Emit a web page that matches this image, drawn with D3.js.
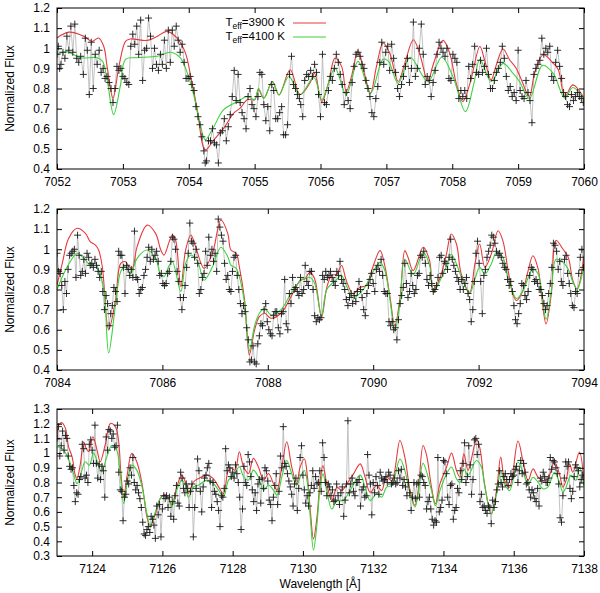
<!DOCTYPE html>
<html>
<head>
<meta charset="utf-8">
<script src="https://cdn.jsdelivr.net/npm/d3@7"></script>
<style>
  body { margin: 0; background: #fff; }
  svg { display: block; font-family: "Liberation Sans", Arial, sans-serif; }
  .tick text { font-size: 12px; fill: #000; }
  .domain { display: none; }
  .tick line { stroke: #000; }
</style>
</head>
<body>
<div id="chart"></div>
<script>
/**
 * DATA
 * */
const legendLabels = ["3900 K", "4100 K"];

// panel 1 : 7052 - 7060
const obs1 = [[7052.00,0.97],[7052.02,1.01],[7052.04,0.90],[7052.06,0.92],[7052.09,0.98],[7052.12,0.95],[7052.15,1.06],[7052.18,0.99],
  [7052.21,1.11],[7052.24,0.98],[7052.27,1.12],[7052.30,0.95],[7052.33,0.93],[7052.36,0.96],[7052.40,0.87],[7052.43,1.05],[7052.46,0.99],
  [7052.49,0.77],[7052.52,1.03],[7052.55,0.80],[7052.58,0.97],[7052.61,0.92],[7052.64,0.99],[7052.67,0.88],[7052.70,0.90],[7052.73,0.85],
  [7052.76,0.86],[7052.79,0.83],[7052.82,0.80],[7052.85,0.73],[7052.88,0.80],[7052.91,0.91],[7052.94,0.89],[7052.97,0.90],[7053.00,0.86],
  [7053.03,0.85],[7053.06,0.83],[7053.09,0.82],[7053.12,1.01],[7053.15,1.07],[7053.18,1.02],[7053.21,1.11],[7053.24,0.97],[7053.27,1.14],
  [7053.30,0.84],[7053.33,0.99],[7053.36,1.00],[7053.39,1.15],[7053.42,1.06],[7053.45,0.90],[7053.48,1.00],[7053.51,0.92],[7053.54,0.89],
  [7053.57,0.97],[7053.60,0.92],[7053.63,1.04],[7053.66,0.90],[7053.69,1.09],[7053.72,0.93],[7053.75,1.09],[7053.78,1.01],[7053.81,1.11],
  [7053.84,1.04],[7053.87,0.98],[7053.90,1.02],[7053.93,0.93],[7053.96,0.85],[7053.99,0.85],[7054.02,0.86],[7054.05,0.82],[7054.08,0.79],
  [7054.11,0.71],[7054.14,0.66],[7054.17,0.62],[7054.20,0.56],[7054.23,0.49],[7054.25,0.43],[7054.27,0.44],[7054.30,0.54],[7054.33,0.54],
  [7054.36,0.60],[7054.39,0.53],[7054.42,0.52],[7054.45,0.43],[7054.48,0.58],[7054.51,0.59],[7054.54,0.65],[7054.57,0.54],[7054.60,0.61],
  [7054.63,0.67],[7054.66,0.76],[7054.69,0.89],[7054.72,0.74],[7054.75,0.87],[7054.78,0.73],[7054.81,0.68],[7054.84,0.65],[7054.87,0.60],
  [7054.90,0.76],[7054.93,0.80],[7054.96,0.72],[7054.99,0.70],[7055.02,0.66],[7055.05,0.76],[7055.08,0.88],[7055.11,0.87],[7055.14,0.72],
  [7055.17,0.64],[7055.20,0.71],[7055.23,0.59],[7055.26,0.82],[7055.29,0.79],[7055.32,0.65],[7055.35,0.65],[7055.38,0.68],[7055.41,0.71],
  [7055.44,0.57],[7055.47,0.57],[7055.50,0.62],[7055.53,0.87],[7055.56,0.96],[7055.59,0.82],[7055.62,0.80],[7055.65,0.77],[7055.68,0.75],
  [7055.70,0.72],[7055.73,0.66],[7055.76,0.84],[7055.79,0.87],[7055.82,0.86],[7055.85,0.89],[7055.88,0.86],[7055.91,0.92],[7055.94,0.88],
  [7055.97,0.77],[7056.00,0.66],[7056.03,0.97],[7056.06,0.73],[7056.09,0.72],[7056.12,0.79],[7056.15,0.86],[7056.18,0.84],[7056.21,0.90],
  [7056.24,0.97],[7056.27,0.93],[7056.30,0.87],[7056.33,0.82],[7056.36,0.72],[7056.39,0.78],[7056.42,0.74],[7056.45,0.70],[7056.48,0.83],
  [7056.51,0.91],[7056.54,0.97],[7056.57,0.98],[7056.60,0.96],[7056.63,0.92],[7056.66,0.90],[7056.69,0.84],[7056.72,0.80],[7056.75,0.76],
  [7056.78,0.68],[7056.81,0.66],[7056.84,0.75],[7056.87,0.81],[7056.90,0.93],[7056.93,1.03],[7056.96,0.92],[7056.99,0.98],[7057.02,1.01],
  [7057.05,0.89],[7057.08,1.02],[7057.11,0.95],[7057.14,0.88],[7057.17,0.80],[7057.20,0.76],[7057.23,0.82],[7057.26,0.86],[7057.29,0.91],
  [7057.32,0.95],[7057.35,0.83],[7057.38,0.90],[7057.41,1.13],[7057.44,0.86],[7057.47,0.90],[7057.50,1.00],[7057.53,1.12],[7057.56,0.97],
  [7057.59,0.82],[7057.62,0.86],[7057.65,0.84],[7057.68,0.76],[7057.71,0.83],[7057.74,0.89],[7057.77,0.97],[7057.80,1.03],[7057.83,1.00],
  [7057.86,0.98],[7057.89,0.96],[7057.92,1.00],[7057.95,0.85],[7057.98,0.84],[7058.01,0.97],[7058.04,0.95],[7058.07,0.93],[7058.10,0.75],
  [7058.13,0.79],[7058.16,0.76],[7058.19,0.79],[7058.22,0.75],[7058.25,0.91],[7058.28,0.85],[7058.31,0.92],[7058.34,1.01],[7058.37,0.88],
  [7058.40,0.87],[7058.43,0.94],[7058.46,0.88],[7058.49,0.91],[7058.52,1.00],[7058.55,0.87],[7058.58,0.80],[7058.61,0.80],[7058.64,0.84],
  [7058.67,0.88],[7058.70,0.90],[7058.73,0.93],[7058.76,1.01],[7058.79,0.95],[7058.82,0.86],[7058.85,0.79],[7058.88,0.81],[7058.91,0.76],
  [7058.94,0.78],[7058.97,0.74],[7059.00,0.99],[7059.03,0.79],[7059.06,0.76],[7059.09,0.75],[7059.12,0.84],[7059.15,0.78],[7059.18,0.74],
  [7059.21,0.63],[7059.24,0.87],[7059.27,0.90],[7059.30,0.92],[7059.33,0.94],[7059.36,1.05],[7059.39,0.97],[7059.42,1.00],[7059.45,0.98],
  [7059.48,1.01],[7059.51,0.86],[7059.54,0.84],[7059.57,0.93],[7059.60,0.99],[7059.63,0.91],[7059.66,0.85],[7059.69,0.78],[7059.72,0.76],
  [7059.75,0.72],[7059.78,0.71],[7059.81,0.77],[7059.84,0.74],[7059.87,0.76],[7059.90,0.78],[7059.93,0.76],[7059.96,0.75],[7059.99,0.73]];

const red1 = [[7052.00,1.051],[7052.18,1.080],[7052.41,1.059],[7052.53,1.034],[7052.63,1.051],[7052.71,1.009],[7052.76,0.910],
  [7052.85,0.752],[7052.94,0.910],[7053.04,1.034],[7053.11,1.046],[7053.37,1.039],[7053.52,1.059],[7053.67,1.084],[7053.82,1.051],
  [7053.95,0.976],[7054.03,0.860],[7054.13,0.694],[7054.25,0.495],[7054.38,0.544],[7054.53,0.602],[7054.68,0.677],[7054.78,0.702],
  [7054.89,0.744],[7055.00,0.744],[7055.06,0.793],[7055.14,0.752],[7055.27,0.835],[7055.37,0.768],[7055.54,0.893],[7055.69,0.770],
  [7055.84,0.827],[7055.91,0.876],[7056.02,0.735],[7056.12,0.827],[7056.22,0.951],[7056.32,0.910],[7056.39,0.785],[7056.47,0.860],
  [7056.57,0.989],[7056.67,0.868],[7056.76,0.777],[7056.85,0.910],[7056.95,1.026],[7057.05,0.976],[7057.18,0.835],[7057.28,0.926],
  [7057.41,1.042],[7057.51,0.968],[7057.63,0.835],[7057.71,0.918],[7057.86,1.039],[7057.96,0.976],[7058.06,0.827],[7058.16,0.735],
  [7058.27,0.827],[7058.42,1.009],[7058.49,0.943],[7058.59,0.843],[7058.67,0.918],[7058.77,0.996],[7058.87,0.943],[7058.97,0.901],
  [7059.05,0.843],[7059.17,0.760],[7059.25,0.876],[7059.38,0.968],[7059.53,0.926],[7059.61,0.893],[7059.71,0.760],[7059.83,0.818],
  [7060.00,0.752]];

const green1 = [[7052.00,0.970],[7052.15,0.983],[7052.35,0.953],[7052.61,0.953],[7052.69,0.936],[7052.76,0.845],[7052.86,0.670],
  [7052.96,0.810],[7053.04,0.945],[7053.20,0.953],[7053.52,0.960],[7053.72,0.980],[7053.87,0.953],[7053.97,0.885],[7054.07,0.775],
  [7054.17,0.630],[7054.25,0.545],[7054.38,0.610],[7054.53,0.695],[7054.74,0.735],[7054.89,0.760],[7055.00,0.745],[7055.06,0.800],
  [7055.14,0.752],[7055.27,0.835],[7055.37,0.768],[7055.52,0.860],[7055.69,0.770],[7055.90,0.855],[7056.02,0.745],[7056.22,0.900],
  [7056.39,0.770],[7056.57,0.935],[7056.76,0.777],[7056.95,0.945],[7057.03,0.936],[7057.18,0.825],[7057.36,0.955],[7057.63,0.835],
  [7057.84,0.955],[7058.01,0.860],[7058.20,0.685],[7058.33,0.827],[7058.42,0.945],[7058.59,0.835],[7058.77,0.925],[7058.92,0.876],
  [7059.02,0.835],[7059.17,0.750],[7059.37,0.915],[7059.53,0.876],[7059.71,0.752],[7059.83,0.805],[7060.00,0.745]];

// panel 2 : 7084 - 7094
const obs2 = [[7084.00,0.98],[7084.03,0.89],[7084.06,0.88],[7084.09,0.82],[7084.12,0.70],[7084.15,0.84],[7084.18,0.78],[7084.21,0.90],
  [7084.24,0.97],[7084.27,0.98],[7084.30,0.99],[7084.33,1.00],[7084.36,0.86],[7084.39,1.07],[7084.42,0.97],[7084.45,0.87],[7084.48,0.89],
  [7084.51,0.95],[7084.54,0.88],[7084.57,0.98],[7084.60,0.96],[7084.63,0.92],[7084.66,0.93],[7084.69,0.91],[7084.72,0.95],[7084.75,0.92],
  [7084.78,0.89],[7084.81,0.86],[7084.84,0.89],[7084.87,0.79],[7084.90,0.70],[7084.93,0.77],[7084.96,0.73],[7084.99,0.62],[7085.02,0.68],
  [7085.05,0.72],[7085.08,0.81],[7085.11,0.79],[7085.14,0.74],[7085.17,0.99],[7085.20,0.97],[7085.23,0.97],[7085.26,0.91],[7085.29,0.78],
  [7085.32,0.92],[7085.35,0.90],[7085.38,0.87],[7085.41,0.90],[7085.44,0.86],[7085.47,1.09],[7085.50,0.86],[7085.53,0.85],[7085.56,0.78],
  [7085.59,0.80],[7085.62,0.81],[7085.65,0.87],[7085.68,0.90],[7085.71,0.96],[7085.74,1.01],[7085.77,0.94],[7085.80,1.00],[7085.83,0.95],
  [7085.86,0.97],[7085.89,0.99],[7085.92,0.94],[7085.95,0.87],[7085.98,0.88],[7086.01,0.83],[7086.04,0.82],[7086.07,0.83],[7086.10,0.88],
  [7086.13,0.89],[7086.16,0.94],[7086.19,1.06],[7086.22,1.05],[7086.25,1.00],[7086.28,0.89],[7086.31,0.84],[7086.34,0.76],[7086.37,0.70],
  [7086.40,0.76],[7086.43,0.82],[7086.46,0.91],[7086.49,0.98],[7086.52,1.13],[7086.55,1.04],[7086.58,1.03],[7086.61,0.96],[7086.64,1.00],
  [7086.67,0.93],[7086.70,0.78],[7086.73,0.80],[7086.76,0.86],[7086.79,0.88],[7086.82,0.99],[7086.85,0.92],[7086.88,1.06],[7086.91,0.97],
  [7086.94,1.00],[7086.97,0.94],[7087.00,0.98],[7087.03,0.89],[7087.06,1.15],[7087.09,1.11],[7087.12,1.07],[7087.15,1.04],[7087.18,0.93],
  [7087.21,0.85],[7087.24,0.87],[7087.27,0.80],[7087.30,0.79],[7087.33,0.89],[7087.36,0.96],[7087.39,0.97],[7087.42,0.87],[7087.45,0.80],
  [7087.48,0.73],[7087.51,0.68],[7087.54,0.72],[7087.57,0.69],[7087.60,0.61],[7087.63,0.55],[7087.66,0.44],[7087.69,0.45],[7087.72,0.52],
  [7087.75,0.44],[7087.78,0.43],[7087.81,0.53],[7087.84,0.57],[7087.87,0.63],[7087.90,0.62],[7087.93,0.70],[7087.96,0.73],[7087.99,0.64],
  [7088.02,0.60],[7088.05,0.58],[7088.08,0.57],[7088.11,0.67],[7088.14,0.69],[7088.17,0.69],[7088.20,0.61],[7088.23,0.58],[7088.26,0.68],
  [7088.29,0.69],[7088.32,0.85],[7088.35,0.63],[7088.38,0.60],[7088.41,0.78],[7088.44,0.73],[7088.47,0.86],[7088.50,0.80],[7088.53,0.81],
  [7088.56,0.79],[7088.59,0.77],[7088.62,0.86],[7088.65,0.78],[7088.68,0.80],[7088.71,0.92],[7088.74,0.84],[7088.77,0.82],[7088.80,0.89],
  [7088.83,0.89],[7088.86,0.80],[7088.89,0.67],[7088.92,0.64],[7088.95,0.66],[7088.98,0.65],[7089.01,0.66],[7089.04,0.87],[7089.07,0.85],
  [7089.10,0.89],[7089.13,0.86],[7089.16,0.87],[7089.19,0.89],[7089.22,0.86],[7089.25,0.84],[7089.28,0.82],[7089.31,0.89],[7089.34,0.87],
  [7089.37,0.94],[7089.40,0.85],[7089.43,0.83],[7089.46,0.80],[7089.49,0.75],[7089.52,0.72],[7089.55,0.76],[7089.58,0.78],[7089.61,0.73],
  [7089.64,0.77],[7089.67,0.74],[7089.70,0.79],[7089.73,0.84],[7089.76,0.80],[7089.79,0.76],[7089.82,0.70],[7089.85,0.67],[7089.88,0.78],
  [7089.91,0.82],[7089.94,0.85],[7089.97,0.88],[7090.00,0.83],[7090.03,0.79],[7090.06,0.90],[7090.09,0.92],[7090.12,0.89],[7090.15,0.95],
  [7090.18,0.87],[7090.21,0.79],[7090.24,0.78],[7090.27,0.78],[7090.30,0.64],[7090.33,0.62],[7090.36,0.64],[7090.39,0.60],[7090.42,0.61],
  [7090.45,0.55],[7090.48,0.65],[7090.51,0.73],[7090.54,0.77],[7090.57,0.81],[7090.60,0.93],[7090.63,0.83],[7090.66,0.76],[7090.69,0.79],
  [7090.72,0.88],[7090.75,0.82],[7090.78,0.78],[7090.81,0.80],[7090.84,0.87],[7090.87,0.88],[7090.90,0.97],[7090.93,0.96],[7090.96,0.99],
  [7090.99,0.93],[7091.02,0.85],[7091.05,0.82],[7091.08,0.87],[7091.11,0.83],[7091.14,0.79],[7091.17,0.80],[7091.20,0.82],[7091.23,0.86],
  [7091.26,0.96],[7091.29,0.97],[7091.32,0.88],[7091.35,0.94],[7091.38,0.93],[7091.41,0.90],[7091.44,0.96],[7091.47,1.05],[7091.50,0.95],
  [7091.53,0.92],[7091.56,0.89],[7091.59,0.86],[7091.62,0.84],[7091.65,0.80],[7091.68,0.85],[7091.71,0.80],[7091.74,0.83],[7091.77,0.86],
  [7091.80,0.78],[7091.83,0.75],[7091.86,0.64],[7091.89,0.70],[7091.92,0.84],[7091.95,0.98],[7091.98,1.04],[7092.01,0.93],[7092.04,0.84],
  [7092.07,0.68],[7092.10,0.87],[7092.13,0.90],[7092.16,0.96],[7092.19,0.99],[7092.22,1.02],[7092.25,1.07],[7092.28,1.06],[7092.31,1.03],
  [7092.34,0.99],[7092.37,0.97],[7092.40,0.98],[7092.43,0.96],[7092.46,0.93],[7092.49,0.91],[7092.52,0.90],[7092.55,0.85],[7092.58,0.82],
  [7092.61,0.84],[7092.64,0.79],[7092.67,0.72],[7092.70,0.65],[7092.73,0.63],[7092.76,0.68],[7092.79,0.73],[7092.82,0.83],[7092.85,0.82],
  [7092.88,0.77],[7092.91,0.75],[7092.94,0.79],[7092.97,0.87],[7093.00,0.91],[7093.03,0.90],[7093.06,0.84],[7093.09,0.85],[7093.12,0.83],
  [7093.15,0.80],[7093.18,0.80],[7093.21,0.77],[7093.24,0.73],[7093.27,0.70],[7093.30,0.72],[7093.33,0.78],[7093.36,0.83],[7093.39,0.91],
  [7093.42,1.03],[7093.45,1.02],[7093.48,0.99],[7093.51,0.90],[7093.54,0.94],[7093.57,0.84],[7093.60,0.82],[7093.63,0.95],[7093.66,0.97],
  [7093.69,0.88],[7093.72,0.83],[7093.75,0.78],[7093.78,0.72],[7093.81,0.71],[7093.84,0.79],[7093.87,0.78],[7093.90,0.88],[7093.93,0.96],
  [7093.96,1.00],[7093.99,0.91]];

const red2 = [[7084.00,0.822],[7084.10,0.930],[7084.22,1.054],[7084.38,1.104],[7084.54,1.079],[7084.63,1.038],[7084.73,1.021],
  [7084.79,0.996],[7084.86,0.913],[7084.98,0.599],[7085.11,0.748],[7085.21,0.930],[7085.30,0.938],[7085.37,0.913],[7085.43,0.905],
  [7085.52,1.013],[7085.71,1.120],[7085.87,1.079],[7085.97,0.996],[7086.03,0.971],[7086.13,1.038],[7086.19,1.071],[7086.25,1.046],
  [7086.35,0.814],[7086.44,0.996],[7086.54,1.071],[7086.63,1.013],[7086.79,0.905],[7086.95,0.980],[7087.11,1.145],[7087.24,1.079],
  [7087.30,0.996],[7087.40,0.980],[7087.46,0.913],[7087.56,0.748],[7087.65,0.475],[7087.75,0.599],[7087.84,0.665],[7087.94,0.682],
  [7088.06,0.657],[7088.25,0.682],[7088.44,0.764],[7088.63,0.850],[7088.70,0.852],[7088.80,0.885],[7088.89,0.852],[7089.02,0.662],
  [7089.12,0.811],[7089.21,0.869],[7089.31,0.877],[7089.40,0.919],[7089.49,0.844],[7089.62,0.778],[7089.75,0.811],[7089.87,0.819],
  [7089.97,0.894],[7090.13,0.993],[7090.22,0.919],[7090.32,0.761],[7090.41,0.621],[7090.51,0.761],[7090.60,0.993],[7090.66,0.960],
  [7090.76,0.894],[7090.95,1.010],[7091.07,0.943],[7091.14,0.794],[7091.26,0.852],[7091.39,0.976],[7091.48,1.076],[7091.58,1.026],
  [7091.67,0.877],[7091.83,0.786],[7091.93,0.927],[7092.02,1.026],[7092.12,0.910],[7092.24,0.976],[7092.37,1.092],[7092.46,1.043],
  [7092.56,0.894],[7092.65,0.778],[7092.72,0.745],[7092.84,0.794],[7092.94,0.894],[7093.03,0.968],[7093.13,0.902],[7093.19,0.778],
  [7093.28,0.629],[7093.38,0.778],[7093.47,1.043],[7093.60,1.001],[7093.70,0.960],[7093.79,0.844],[7093.87,0.803],[7094.00,0.968]];

const green2 = [[7084.00,0.800],[7084.13,0.880],[7084.25,0.938],[7084.38,0.980],[7084.54,0.946],[7084.63,0.921],[7084.73,0.930],
  [7084.79,0.896],[7084.89,0.800],[7084.98,0.485],[7085.11,0.724],[7085.21,0.889],[7085.30,0.917],[7085.40,0.880],[7085.52,0.955],
  [7085.71,0.996],[7085.87,0.955],[7085.97,0.870],[7086.03,0.864],[7086.13,0.920],[7086.19,0.938],[7086.35,0.790],[7086.44,0.930],
  [7086.54,0.971],[7086.67,0.938],[7086.79,0.846],[7086.95,0.913],[7087.11,1.010],[7087.24,0.963],[7087.30,0.921],[7087.40,0.905],
  [7087.46,0.864],[7087.56,0.731],[7087.65,0.495],[7087.75,0.620],[7087.84,0.682],[7087.94,0.707],[7088.06,0.674],[7088.25,0.700],
  [7088.44,0.780],[7088.63,0.845],[7088.80,0.860],[7088.89,0.830],[7089.02,0.670],[7089.12,0.800],[7089.31,0.850],[7089.40,0.870],
  [7089.49,0.820],[7089.62,0.760],[7089.81,0.800],[7089.97,0.875],[7090.13,0.935],[7090.22,0.895],[7090.32,0.745],[7090.41,0.595],
  [7090.51,0.745],[7090.60,0.950],[7090.76,0.875],[7090.95,0.985],[7091.07,0.920],[7091.14,0.785],[7091.26,0.840],[7091.39,0.915],
  [7091.48,0.975],[7091.58,0.927],[7091.70,0.844],[7091.83,0.780],[7091.93,0.852],[7092.02,0.910],[7092.12,0.877],[7092.24,0.927],
  [7092.34,0.985],[7092.46,0.960],[7092.56,0.860],[7092.72,0.755],[7092.84,0.794],[7093.03,0.900],[7093.13,0.877],[7093.28,0.652],
  [7093.38,0.794],[7093.47,0.950],[7093.60,0.935],[7093.70,0.902],[7093.79,0.836],[7093.87,0.800],[7094.00,0.925]];

// panel 3 : 7123 - 7138
const obs3 = [[7123.00,1.10],[7123.04,1.18],[7123.08,0.98],[7123.12,1.05],[7123.16,1.15],[7123.20,1.02],[7123.24,1.12],[7123.28,1.10],
  [7123.32,0.98],[7123.36,0.91],[7123.40,0.89],[7123.44,0.90],[7123.48,0.78],[7123.52,0.67],[7123.56,0.73],[7123.60,0.72],[7123.64,0.82],
  [7123.68,0.84],[7123.72,1.06],[7123.76,1.03],[7123.80,0.83],[7123.84,0.85],[7123.88,0.80],[7123.92,1.06],[7123.96,1.09],[7124.00,1.02],
  [7124.04,0.93],[7124.08,1.19],[7124.12,0.93],[7124.16,0.83],[7124.20,0.92],[7124.24,0.82],[7124.28,0.91],[7124.32,0.88],[7124.36,0.70],
  [7124.40,1.11],[7124.44,1.02],[7124.48,1.16],[7124.52,1.15],[7124.56,1.10],[7124.60,1.13],[7124.64,1.04],[7124.68,1.05],[7124.72,1.19],
  [7124.76,0.87],[7124.80,0.75],[7124.84,0.74],[7124.88,0.54],[7124.92,0.70],[7124.96,0.72],[7125.00,0.81],[7125.04,0.79],[7125.08,0.90],
  [7125.12,0.85],[7125.16,0.97],[7125.20,0.80],[7125.24,0.75],[7125.28,0.78],[7125.32,0.73],[7125.36,0.69],[7125.40,0.63],[7125.44,0.53],
  [7125.48,0.45],[7125.52,0.44],[7125.56,0.48],[7125.60,0.50],[7125.64,0.46],[7125.68,0.57],[7125.72,0.55],[7125.76,0.51],[7125.80,0.42],
  [7125.84,0.64],[7125.88,0.58],[7125.92,0.65],[7125.96,0.43],[7126.00,0.62],[7126.04,0.71],[7126.08,0.69],[7126.12,0.71],[7126.16,0.63],
  [7126.20,0.70],[7126.24,0.57],[7126.28,0.67],[7126.32,0.55],[7126.36,0.71],[7126.40,0.78],[7126.44,0.66],[7126.48,0.64],[7126.52,0.87],
  [7126.56,0.83],[7126.60,0.76],[7126.64,0.73],[7126.68,0.79],[7126.72,0.76],[7126.76,0.63],[7126.80,0.74],[7126.84,0.79],[7126.88,0.43],
  [7126.92,0.63],[7126.96,0.76],[7127.00,0.96],[7127.04,0.88],[7127.08,0.74],[7127.12,0.60],[7127.16,0.77],[7127.20,0.83],[7127.24,0.85],
  [7127.28,0.90],[7127.32,0.93],[7127.36,0.81],[7127.40,0.63],[7127.44,0.80],[7127.48,0.74],[7127.52,0.72],[7127.56,0.67],[7127.60,0.61],
  [7127.64,0.50],[7127.68,0.71],[7127.72,0.70],[7127.76,0.76],[7127.80,1.03],[7127.84,0.88],[7127.88,0.92],[7127.92,0.90],[7127.96,0.84],
  [7128.00,0.87],[7128.04,0.83],[7128.08,0.92],[7128.12,0.86],[7128.16,0.80],[7128.20,0.70],[7128.24,0.48],[7128.28,0.62],[7128.32,0.91],
  [7128.36,0.80],[7128.40,0.78],[7128.44,0.99],[7128.48,0.94],[7128.52,0.84],[7128.56,0.75],[7128.60,0.67],[7128.64,0.73],[7128.68,0.61],
  [7128.72,0.79],[7128.76,0.82],[7128.80,0.66],[7128.84,0.83],[7128.88,0.76],[7128.92,0.90],[7128.96,0.88],[7129.00,0.81],[7129.04,0.68],
  [7129.08,0.65],[7129.12,0.54],[7129.16,0.70],[7129.20,0.78],[7129.24,0.86],[7129.28,0.65],[7129.32,0.74],[7129.36,0.98],[7129.40,0.90],
  [7129.44,1.18],[7129.48,0.93],[7129.52,0.91],[7129.56,0.86],[7129.60,0.81],[7129.64,0.77],[7129.68,0.72],[7129.72,0.64],[7129.76,0.79],
  [7129.80,0.83],[7129.84,0.61],[7129.88,0.76],[7129.92,0.97],[7129.96,1.05],[7130.00,0.85],[7130.04,0.75],[7130.08,0.66],[7130.12,0.71],
  [7130.16,0.64],[7130.20,0.73],[7130.24,0.78],[7130.28,0.88],[7130.32,0.76],[7130.36,0.84],[7130.40,0.79],[7130.44,0.80],[7130.48,0.88],
  [7130.52,0.74],[7130.56,1.07],[7130.60,0.97],[7130.64,0.80],[7130.68,0.71],[7130.72,0.79],[7130.76,0.77],[7130.80,0.71],[7130.84,0.75],
  [7130.88,0.67],[7130.92,0.68],[7130.96,0.79],[7131.00,0.71],[7131.04,0.65],[7131.08,0.73],[7131.12,0.77],[7131.16,0.57],[7131.20,0.68],
  [7131.24,0.79],[7131.28,1.22],[7131.32,0.73],[7131.36,0.79],[7131.40,0.83],[7131.44,0.74],[7131.48,0.71],[7131.52,0.80],[7131.56,0.80],
  [7131.60,0.82],[7131.64,0.64],[7131.68,0.75],[7131.72,0.77],[7131.76,0.70],[7131.80,0.71],[7131.84,0.99],[7131.88,0.85],[7131.92,0.79],
  [7131.96,0.58],[7132.00,0.80],[7132.04,0.73],[7132.08,0.84],[7132.12,0.78],[7132.16,0.72],[7132.20,0.87],[7132.24,0.83],[7132.28,0.81],
  [7132.32,0.82],[7132.36,0.84],[7132.40,0.80],[7132.44,0.87],[7132.48,0.85],[7132.52,0.79],[7132.56,0.80],[7132.60,0.83],[7132.64,0.79],
  [7132.68,0.80],[7132.72,0.88],[7132.76,0.83],[7132.80,0.89],[7132.84,0.78],[7132.88,0.82],[7132.92,0.77],[7132.96,0.71],[7133.00,0.80],
  [7133.04,0.73],[7133.08,0.61],[7133.12,0.70],[7133.16,0.80],[7133.20,0.69],[7133.24,0.79],[7133.28,0.80],[7133.32,0.70],[7133.36,0.85],
  [7133.40,0.84],[7133.44,0.80],[7133.48,0.78],[7133.52,0.62],[7133.56,0.67],[7133.60,0.70],[7133.64,0.62],[7133.68,0.55],[7133.72,0.51],
  [7133.76,0.54],[7133.80,0.53],[7133.84,0.97],[7133.88,0.60],[7133.92,0.63],[7133.96,0.68],[7134.00,0.95],[7134.04,0.94],[7134.08,0.86],
  [7134.12,0.70],[7134.16,0.65],[7134.20,0.78],[7134.24,0.79],[7134.28,0.55],[7134.32,0.61],[7134.36,0.63],[7134.40,0.76],[7134.44,0.73],
  [7134.48,0.88],[7134.52,0.82],[7134.56,0.93],[7134.60,1.07],[7134.64,0.80],[7134.68,0.84],[7134.72,1.05],[7134.76,0.92],[7134.80,0.72],
  [7134.84,0.82],[7134.88,1.09],[7134.92,1.10],[7134.96,0.99],[7135.00,1.06],[7135.04,0.67],[7135.08,0.72],[7135.12,0.63],[7135.16,0.64],
  [7135.20,0.61],[7135.24,0.59],[7135.28,0.64],[7135.32,0.63],[7135.36,0.52],[7135.40,0.68],[7135.44,0.63],[7135.48,0.67],[7135.52,0.75],
  [7135.56,0.79],[7135.60,0.88],[7135.64,0.80],[7135.68,0.77],[7135.72,0.84],[7135.76,0.86],[7135.80,0.82],[7135.84,0.78],[7135.88,0.82],
  [7135.92,0.86],[7135.96,0.84],[7136.00,0.85],[7136.04,0.89],[7136.08,0.91],[7136.12,0.80],[7136.16,0.88],[7136.20,0.95],[7136.24,0.86],
  [7136.28,0.93],[7136.32,0.87],[7136.36,0.79],[7136.40,0.80],[7136.44,0.75],[7136.48,0.70],[7136.52,0.75],[7136.56,0.73],[7136.60,0.69],
  [7136.64,0.67],[7136.68,0.76],[7136.72,0.64],[7136.76,0.83],[7136.80,0.81],[7136.84,0.87],[7136.88,0.84],[7136.92,0.80],[7136.96,0.80],
  [7137.00,0.83],[7137.04,0.97],[7137.08,0.89],[7137.12,0.95],[7137.16,0.94],[7137.20,0.90],[7137.24,0.86],[7137.28,0.79],[7137.32,0.56],
  [7137.36,0.53],[7137.40,0.71],[7137.44,0.83],[7137.48,0.94],[7137.52,0.91],[7137.56,0.94],[7137.60,0.76],[7137.64,0.69],[7137.68,0.74],
  [7137.72,0.84],[7137.76,0.92],[7137.80,0.90],[7137.84,0.88],[7137.88,0.77],[7137.92,0.82],[7137.96,0.85]];

const red3 = [[7123.00,1.111],[7123.05,1.191],[7123.14,1.207],[7123.24,1.168],[7123.33,1.043],[7123.43,0.975],[7123.52,0.850],
  [7123.57,0.827],[7123.66,0.918],[7123.76,1.077],[7123.83,1.032],[7123.90,1.009],[7124.02,1.111],[7124.14,1.020],[7124.23,0.941],
  [7124.37,1.055],[7124.52,1.202],[7124.66,1.180],[7124.75,1.089],[7124.82,0.861],[7124.90,0.702],[7124.99,0.839],[7125.13,0.998],
  [7125.27,0.941],[7125.42,0.793],[7125.56,0.566],[7125.65,0.498],[7125.80,0.589],[7125.94,0.691],[7126.08,0.720],[7126.18,0.691],
  [7126.27,0.645],[7126.41,0.770],[7126.55,0.850],[7126.65,0.805],[7126.74,0.725],[7126.89,0.805],[7127.03,0.827],[7127.27,0.850],
  [7127.45,0.827],[7127.60,0.770],[7127.74,0.725],[7127.88,0.884],[7127.98,0.895],[7128.07,0.884],[7128.19,1.009],[7128.31,0.907],
  [7128.45,0.861],[7128.59,0.964],[7128.73,0.907],[7128.88,0.816],[7129.02,0.861],[7129.16,0.793],[7129.26,0.748],[7129.40,0.907],
  [7129.54,1.077],[7129.68,0.907],[7129.82,0.793],[7129.92,0.905],[7130.04,0.961],[7130.13,0.836],[7130.21,0.609],[7130.30,0.416],
  [7130.40,0.564],[7130.49,0.814],[7130.57,0.916],[7130.66,0.814],[7130.82,0.677],[7130.97,0.768],[7131.11,0.745],[7131.25,0.791],
  [7131.44,0.859],[7131.63,0.927],[7131.77,0.836],[7131.91,0.734],[7132.10,0.780],[7132.24,0.745],[7132.38,0.836],[7132.53,0.814],
  [7132.76,1.086],[7132.90,0.973],[7133.05,0.745],[7133.19,0.643],[7133.28,0.745],[7133.42,1.052],[7133.52,0.984],[7133.66,0.768],
  [7133.77,0.655],[7133.90,0.791],[7134.09,0.905],[7134.23,1.000],[7134.37,0.882],[7134.47,0.836],[7134.58,0.995],[7134.70,0.882],
  [7134.94,1.091],[7135.03,1.041],[7135.17,0.791],[7135.36,0.586],[7135.51,0.745],[7135.63,0.973],[7135.74,0.814],[7135.88,0.768],
  [7136.12,1.082],[7136.26,0.950],[7136.41,0.814],[7136.55,0.893],[7136.69,0.836],[7136.83,0.814],[7136.97,0.825],[7137.16,0.939],
  [7137.30,0.859],[7137.40,0.768],[7137.49,0.814],[7137.59,0.927],[7137.68,0.870],[7137.87,1.007],[7138.00,0.791]];

const green3 = [[7123.00,1.043],[7123.14,1.032],[7123.28,0.986],[7123.43,0.895],[7123.57,0.793],[7123.71,0.884],[7123.80,0.941],
  [7123.92,0.918],[7124.04,1.000],[7124.18,0.918],[7124.27,0.873],[7124.42,0.975],[7124.56,1.052],[7124.70,1.020],[7124.79,0.884],
  [7124.90,0.657],[7124.99,0.793],[7125.13,0.918],[7125.27,0.884],[7125.42,0.770],[7125.56,0.589],[7125.65,0.509],[7125.80,0.600],
  [7125.94,0.691],[7126.08,0.713],[7126.18,0.691],[7126.27,0.634],[7126.41,0.748],[7126.55,0.816],[7126.65,0.782],[7126.74,0.700],
  [7126.89,0.770],[7127.03,0.782],[7127.27,0.816],[7127.45,0.793],[7127.60,0.748],[7127.74,0.702],[7127.88,0.816],[7128.03,0.850],
  [7128.19,0.907],[7128.31,0.839],[7128.45,0.816],[7128.59,0.884],[7128.73,0.839],[7128.88,0.748],[7129.02,0.782],[7129.16,0.748],
  [7129.26,0.714],[7129.40,0.839],[7129.54,0.950],[7129.68,0.861],[7129.82,0.782],[7129.92,0.836],[7130.04,0.882],[7130.13,0.791],
  [7130.21,0.564],[7130.30,0.340],[7130.40,0.518],[7130.49,0.768],[7130.57,0.859],[7130.68,0.745],[7130.82,0.620],[7130.97,0.677],
  [7131.15,0.677],[7131.34,0.745],[7131.63,0.850],[7131.77,0.768],[7131.91,0.677],[7132.10,0.723],[7132.24,0.700],[7132.38,0.768],
  [7132.53,0.780],[7132.76,0.960],[7132.90,0.882],[7133.05,0.723],[7133.19,0.632],[7133.28,0.723],[7133.42,0.930],[7133.66,0.745],
  [7133.77,0.643],[7133.90,0.745],[7134.09,0.859],[7134.23,0.905],[7134.37,0.825],[7134.47,0.800],[7134.58,0.893],[7134.70,0.850],
  [7134.94,0.950],[7135.08,0.905],[7135.17,0.780],[7135.36,0.586],[7135.51,0.723],[7135.63,0.882],[7135.74,0.791],[7135.88,0.745],
  [7136.12,0.939],[7136.26,0.870],[7136.41,0.791],[7136.55,0.836],[7136.69,0.802],[7136.83,0.757],[7136.97,0.768],[7137.16,0.870],
  [7137.30,0.802],[7137.40,0.734],[7137.49,0.768],[7137.63,0.850],[7137.77,0.814],[7137.87,0.905],[7138.00,0.768]];

const xTicks1 = [7052, 7053, 7054, 7055, 7056, 7057, 7058, 7059, 7060];
const xTicks2 = [7084, 7086, 7088, 7090, 7092, 7094];
const xTicks3 = [7124, 7126, 7128, 7130, 7132, 7134, 7136, 7138];
const yTicks12 = [0.4, 0.5, 0.6, 0.7, 0.8, 0.9, 1.0, 1.1, 1.2];
const yTicks3 = [0.3, 0.4, 0.5, 0.6, 0.7, 0.8, 0.9, 1.0, 1.1, 1.2, 1.3];

/**
 * LAYOUT
 * */
const width = 600, height = 593;
const left = 57, right = 584;
const colors = { red: "#e8383c", green: "#3cd23c", obs: "#b4b4b4" };

const panels = [
  { top: 8,   bottom: 169, xd: [7052, 7060], yd: [0.4, 1.2], xt: xTicks1, yt: yTicks12, obs: obs1, red: red1, green: green1, legend: true },
  { top: 209, bottom: 370, xd: [7084, 7094], yd: [0.4, 1.2], xt: xTicks2, yt: yTicks12, obs: obs2, red: red2, green: green2 },
  { top: 409, bottom: 556, xd: [7123, 7138], yd: [0.3, 1.3], xt: xTicks3, yt: yTicks3, obs: obs3, red: red3, green: green3 }
];

const svg = d3.select("#chart").append("svg")
  .attr("width", width)
  .attr("height", height);

const fmt = d => String(+d.toFixed(1));

panels.forEach((p, i) => {
  const x = d3.scaleLinear().domain(p.xd).range([left, right]);
  const y = d3.scaleLinear().domain(p.yd).range([p.bottom, p.top]);

  const clipId = "clip" + i;
  svg.append("clipPath").attr("id", clipId)
    .append("rect")
    .attr("x", left).attr("y", p.top)
    .attr("width", right - left).attr("height", p.bottom - p.top);

  const g = svg.append("g").attr("clip-path", `url(#${clipId})`);

  const line = d3.line().x(d => x(d[0])).y(d => y(d[1]));
  const smooth = d3.line().x(d => x(d[0])).y(d => y(d[1])).curve(d3.curveCatmullRom.alpha(0.5));

  // observed spectrum: thin grey line joining the points
  g.append("path")
    .datum(p.obs)
    .attr("d", line)
    .attr("fill", "none")
    .attr("stroke", colors.obs)
    .attr("stroke-width", 0.8);

  g.append("path")
    .datum(p.red)
    .attr("d", smooth)
    .attr("fill", "none")
    .attr("stroke", colors.red)
    .attr("stroke-width", 1.1);

  g.append("path")
    .datum(p.green)
    .attr("d", smooth)
    .attr("fill", "none")
    .attr("stroke", colors.green)
    .attr("stroke-width", 1.1);

  // crosses
  g.selectAll("path.pt")
    .data(p.obs)
    .join("path")
    .attr("class", "pt")
    .attr("transform", d => `translate(${x(d[0])},${y(d[1])})`)
    .attr("d", "M-3.5,0H3.5M0,-3.5V3.5")
    .attr("stroke", "#1a1a1a")
    .attr("stroke-width", 0.9);

  // axes, gnuplot style: ticks inside, mirrored
  svg.append("g")
    .attr("transform", `translate(0,${p.bottom})`)
    .call(d3.axisBottom(x).tickValues(p.xt).tickSize(-5).tickPadding(8.5).tickFormat(d3.format("d")));
  svg.append("g")
    .attr("transform", `translate(0,${p.top})`)
    .call(d3.axisTop(x).tickValues(p.xt).tickSize(-5).tickFormat(""));
  svg.append("g")
    .attr("transform", `translate(${left},0)`)
    .call(d3.axisLeft(y).tickValues(p.yt).tickSize(-5).tickPadding(7).tickFormat(fmt));
  svg.append("g")
    .attr("transform", `translate(${right},0)`)
    .call(d3.axisRight(y).tickValues(p.yt).tickSize(-5).tickFormat(""));

  svg.append("rect")
    .attr("x", left).attr("y", p.top)
    .attr("width", right - left).attr("height", p.bottom - p.top)
    .attr("fill", "none")
    .attr("stroke", "#000")
    .attr("stroke-width", 1);

  svg.append("text")
    .attr("transform", `translate(14,${(p.top + p.bottom) / 2}) rotate(-90)`)
    .attr("text-anchor", "middle")
    .attr("font-size", 12)
    .text("Normalized Flux");

  if (p.legend) {
    const leg = svg.append("g");
    [[legendLabels[0], colors.red, 23], [legendLabels[1], colors.green, 37]].forEach(([lab, col, ly]) => {
      const t = leg.append("text")
        .attr("x", 285).attr("y", ly + 3)
        .attr("text-anchor", "end")
        .attr("font-size", 11.5);
      t.append("tspan").text("T");
      t.append("tspan").attr("font-size", 8.5).attr("dy", 2.5).text("eff");
      t.append("tspan").attr("dy", -2.5).text("=" + lab);
      leg.append("line")
        .attr("x1", 293).attr("x2", 326)
        .attr("y1", ly).attr("y2", ly)
        .attr("stroke", col)
        .attr("stroke-width", 1.1);
    });
  }
});

svg.append("text")
  .attr("x", 320).attr("y", 588)
  .attr("text-anchor", "middle")
  .attr("font-size", 12)
  .text("Wavelength [Å]");
</script>
</body>
</html>
